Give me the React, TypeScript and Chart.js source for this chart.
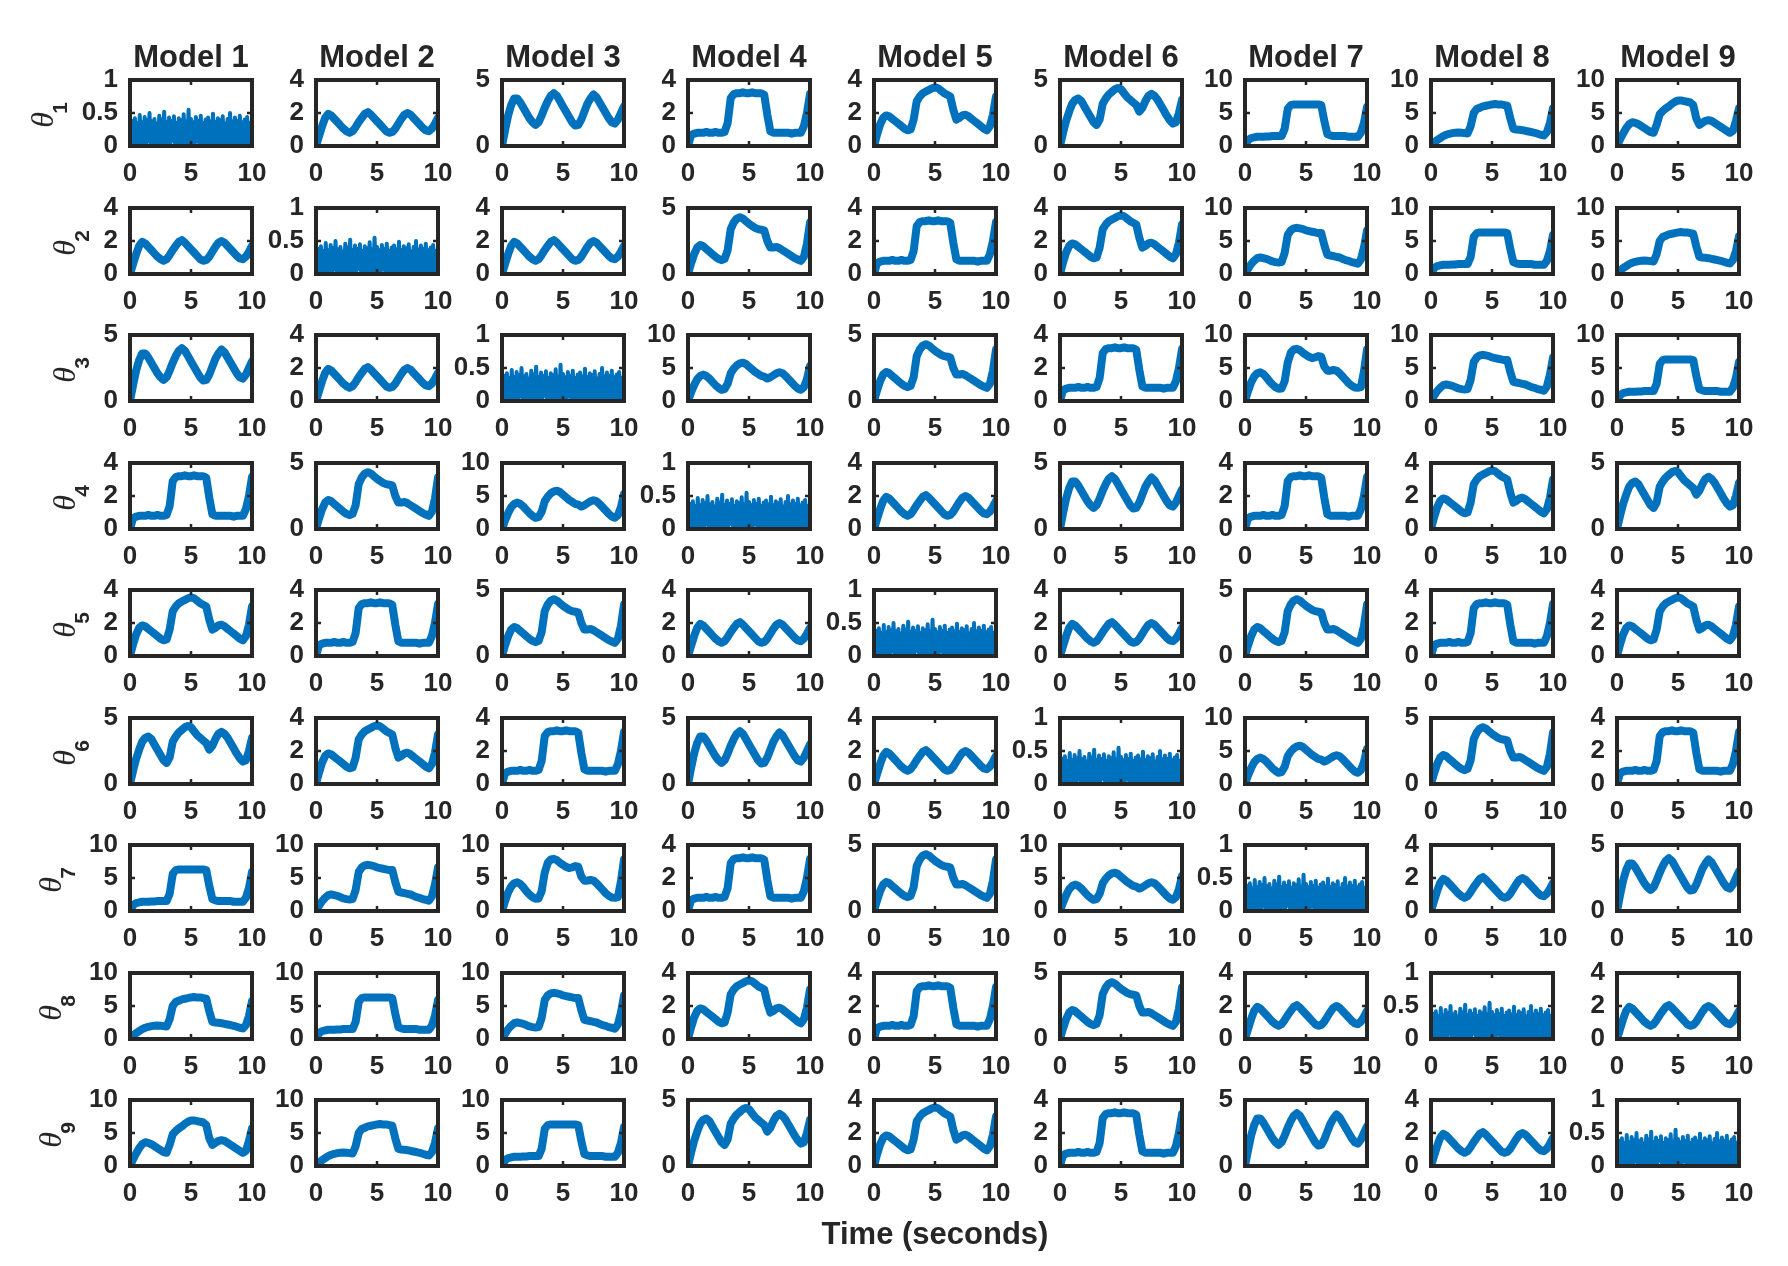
import React, { useEffect, useRef } from 'react';
import { Chart, registerables } from 'chart.js';

Chart.register(...registerables);

// ---------- data ----------
const TIME = [0, 0.25, 0.5, 0.75, 1, 1.25, 1.5, 1.75, 2, 2.25, 2.5, 2.75, 3, 3.25, 3.5, 3.75, 4, 4.25, 4.5, 4.75, 5, 5.25, 5.5, 5.75, 6, 6.25, 6.5, 6.75, 7, 7.25, 7.5, 7.75, 8, 8.25, 8.5, 8.75, 9, 9.25, 9.5, 9.75, 10];

const NOISE_TIME = [0, 0.1, 0.2, 0.3, 0.4, 0.5, 0.6, 0.7, 0.8, 0.9, 1, 1.1, 1.2, 1.3, 1.4, 1.5, 1.6, 1.7, 1.8, 1.9, 2, 2.1, 2.2, 2.3, 2.4, 2.5, 2.6, 2.7, 2.8, 2.9, 3, 3.1, 3.2, 3.3, 3.4, 3.5, 3.6, 3.7, 3.8, 3.9, 4, 4.1, 4.2, 4.3, 4.4, 4.5, 4.6, 4.7, 4.8, 4.9, 5, 5.1, 5.2, 5.3, 5.4, 5.5, 5.6, 5.7, 5.8, 5.9, 6, 6.1, 6.2, 6.3, 6.4, 6.5, 6.6, 6.7, 6.8, 6.9, 7, 7.1, 7.2, 7.3, 7.4, 7.5, 7.6, 7.7, 7.8, 7.9, 8, 8.1, 8.2, 8.3, 8.4, 8.5, 8.6, 8.7, 8.8, 8.9, 9, 9.1, 9.2, 9.3, 9.4, 9.5, 9.6, 9.7, 9.8, 9.9, 10];

// diagonal panels (same parameter): noise band
const NOISE = [0.45, 0.03, 0.38, 0.05, 0.42, 0.01, 0.35, 0.06, 0.47, 0.02,
  0.36, 0.04, 0.44, 0.00, 0.39, 0.07, 0.50, 0.03, 0.37, 0.05,
  0.41, 0.02, 0.34, 0.06, 0.46, 0.01, 0.40, 0.04, 0.52, 0.03,
  0.36, 0.05, 0.43, 0.02, 0.38, 0.08, 0.45, 0.01, 0.35, 0.04,
  0.42, 0.03, 0.39, 0.06, 0.48, 0.02, 0.37, 0.05, 0.55, 0.03,
  0.41, 0.01, 0.36, 0.04, 0.44, 0.07, 0.38, 0.02, 0.46, 0.05,
  0.35, 0.03, 0.40, 0.01, 0.43, 0.06, 0.37, 0.04, 0.49, 0.02,
  0.36, 0.05, 0.42, 0.03, 0.39, 0.00, 0.45, 0.06, 0.34, 0.04,
  0.41, 0.02, 0.50, 0.05, 0.37, 0.03, 0.43, 0.01, 0.38, 0.06,
  0.46, 0.04, 0.36, 0.02, 0.40, 0.05, 0.44, 0.03, 0.35, 0.07,
  0.42];

const WAVE_SMALL = [0, 0.6, 1.2, 1.7, 1.95, 1.85, 1.65, 1.45, 1.25, 1.05, 0.9, 0.8, 0.9, 1.15, 1.45, 1.7, 1.95, 2.05, 1.9, 1.7, 1.5, 1.3, 1.1, 0.9, 0.8, 0.85, 1.05, 1.35, 1.65, 1.9, 2.0, 1.9, 1.7, 1.5, 1.3, 1.1, 0.95, 0.9, 1.05, 1.35, 1.7];
const WAVE_BIG = [0, 1.2, 2.3, 3.1, 3.6, 3.6, 3.3, 2.9, 2.5, 2.1, 1.8, 1.6, 1.8, 2.3, 2.9, 3.4, 3.8, 4.0, 3.8, 3.4, 3.0, 2.6, 2.2, 1.8, 1.55, 1.6, 2.0, 2.6, 3.2, 3.6, 3.9, 3.7, 3.3, 2.9, 2.5, 2.1, 1.8, 1.7, 2.0, 2.5, 3.0];
const STEP_SMALL = [0, 0.65, 0.75, 0.8, 0.8, 0.8, 0.85, 0.8, 0.8, 0.85, 0.8, 0.8, 0.85, 1.4, 2.9, 3.15, 3.2, 3.2, 3.25, 3.2, 3.2, 3.25, 3.2, 3.2, 3.2, 3.1, 1.9, 0.9, 0.8, 0.8, 0.8, 0.8, 0.8, 0.8, 0.75, 0.8, 0.8, 0.8, 1.2, 2.0, 3.15];
const STEP_WAVE_PLUS = [0, 0.7, 1.3, 1.7, 1.85, 1.8, 1.65, 1.5, 1.35, 1.2, 1.05, 0.95, 1.0, 1.6, 2.7, 3.0, 3.2, 3.3, 3.4, 3.5, 3.55, 3.5, 3.35, 3.2, 3.1, 3.0, 2.2, 1.6, 1.7, 1.85, 1.9, 1.8, 1.65, 1.5, 1.35, 1.2, 1.05, 0.95, 1.2, 1.9, 3.0];
const STEP_WAVE_MINUS = [0, 0.8, 1.5, 2.0, 2.2, 2.1, 1.9, 1.7, 1.5, 1.3, 1.15, 1.05, 1.15, 1.8, 3.4, 3.9, 4.2, 4.3, 4.2, 4.0, 3.8, 3.65, 3.5, 3.4, 3.35, 3.3, 2.5, 2.0, 2.0, 2.05, 1.95, 1.8, 1.65, 1.5, 1.35, 1.2, 1.1, 1.0, 1.3, 2.3, 3.9];
const STEP_WAVE2_PLUS = [0, 1.0, 1.9, 2.6, 3.2, 3.5, 3.6, 3.4, 3.0, 2.6, 2.2, 1.8, 1.6, 2.0, 3.2, 3.6, 3.9, 4.1, 4.3, 4.4, 4.3, 4.0, 3.7, 3.5, 3.3, 3.1, 2.6, 2.9, 3.4, 3.8, 3.95, 3.8, 3.5, 3.1, 2.7, 2.3, 1.95, 1.7, 1.8, 2.5, 3.5];
const STEP_WAVE2_MINUS = [0, 1.3, 2.4, 3.3, 3.8, 4.0, 3.8, 3.4, 2.9, 2.4, 2.0, 1.7, 1.8, 2.6, 4.2, 4.9, 5.4, 5.7, 5.8, 5.6, 5.2, 4.8, 4.4, 4.1, 3.8, 3.7, 3.4, 3.6, 3.9, 4.2, 4.35, 4.2, 3.8, 3.3, 2.8, 2.3, 1.9, 1.7, 2.1, 3.3, 5.3];
const STEP_BIG = [0, 0.9, 1.2, 1.3, 1.4, 1.4, 1.4, 1.45, 1.45, 1.5, 1.5, 1.5, 1.5, 2.6, 5.6, 6.2, 6.3, 6.3, 6.3, 6.3, 6.3, 6.3, 6.3, 6.3, 6.3, 6.2, 3.8, 1.8, 1.6, 1.5, 1.5, 1.5, 1.5, 1.5, 1.4, 1.4, 1.4, 1.4, 2.0, 3.5, 5.9];
const STEP_BIG_WAVE_PLUS = [0, 0.5, 0.9, 1.2, 1.5, 1.7, 1.85, 1.95, 2.0, 2.05, 2.0, 1.95, 1.9, 3.0, 5.0, 5.6, 5.8, 6.0, 6.1, 6.2, 6.3, 6.35, 6.3, 6.3, 6.2, 6.1, 4.2, 2.6, 2.5, 2.45, 2.4, 2.3, 2.2, 2.1, 2.0, 1.85, 1.7, 1.6, 2.1, 3.5, 5.7];
const STEP_BIG_WAVE_MINUS = [0, 0.8, 1.5, 2.0, 2.4, 2.5, 2.4, 2.3, 2.1, 1.9, 1.8, 1.75, 1.8, 3.2, 5.9, 6.6, 6.9, 7.0, 6.9, 6.8, 6.6, 6.5, 6.4, 6.3, 6.2, 6.2, 4.4, 2.9, 2.8, 2.7, 2.6, 2.5, 2.3, 2.1, 2.0, 1.8, 1.7, 1.55, 2.2, 4.0, 6.6];
const STEP_BIG_WAVE2_PLUS = [0, 1.0, 1.9, 2.7, 3.3, 3.6, 3.5, 3.3, 3.0, 2.7, 2.4, 2.1, 2.0, 3.2, 4.8, 5.3, 5.7, 6.0, 6.4, 6.7, 6.9, 6.9, 6.8, 6.7, 6.6, 6.2, 4.2, 3.2, 3.5, 3.8, 3.9, 3.8, 3.5, 3.2, 2.9, 2.6, 2.3, 2.0, 2.3, 3.8, 5.7];
const STEP_BIG_WAVE2_MINUS = [0, 1.5, 2.8, 3.7, 4.2, 4.35, 4.1, 3.6, 3.0, 2.5, 2.1, 1.85, 1.9, 3.0, 5.8, 7.3, 7.8, 7.9, 7.7, 7.3, 7.0, 6.7, 6.5, 6.6, 6.8, 6.7, 5.2, 4.6, 4.6, 4.7, 4.6, 4.2, 3.7, 3.2, 2.7, 2.3, 2.05, 2.0, 2.1, 4.5, 7.8];

const MODEL_TITLES = ['Model 1', 'Model 2', 'Model 3', 'Model 4', 'Model 5', 'Model 6', 'Model 7', 'Model 8', 'Model 9'];
const THETA_SUBSCRIPTS = ['1', '2', '3', '4', '5', '6', '7', '8', '9'];
const X_LABEL = 'Time (seconds)';
const X_TICKS = [0, 5, 10];
const Y_TICKS_1 = [0, 0.5, 1];
const Y_TICKS_4 = [0, 2, 4];
const Y_TICKS_5 = [0, 5];
const Y_TICKS_10 = [0, 5, 10];

type Shape = { t: number[]; y: number[]; ticks: number[]; noise?: boolean };
const SHAPES: Record<string, Shape> = {
  N: { t: NOISE_TIME, y: NOISE, ticks: Y_TICKS_1, noise: true },
  '01': { t: TIME, y: WAVE_SMALL, ticks: Y_TICKS_4 },
  '02': { t: TIME, y: WAVE_BIG, ticks: Y_TICKS_5 },
  '10': { t: TIME, y: STEP_SMALL, ticks: Y_TICKS_4 },
  '11': { t: TIME, y: STEP_WAVE_PLUS, ticks: Y_TICKS_4 },
  '1m1': { t: TIME, y: STEP_WAVE_MINUS, ticks: Y_TICKS_5 },
  '12': { t: TIME, y: STEP_WAVE2_PLUS, ticks: Y_TICKS_5 },
  '1m2': { t: TIME, y: STEP_WAVE2_MINUS, ticks: Y_TICKS_10 },
  '20': { t: TIME, y: STEP_BIG, ticks: Y_TICKS_10 },
  '21': { t: TIME, y: STEP_BIG_WAVE_PLUS, ticks: Y_TICKS_10 },
  '2m1': { t: TIME, y: STEP_BIG_WAVE_MINUS, ticks: Y_TICKS_10 },
  '22': { t: TIME, y: STEP_BIG_WAVE2_PLUS, ticks: Y_TICKS_10 },
  '2m2': { t: TIME, y: STEP_BIG_WAVE2_MINUS, ticks: Y_TICKS_10 },
};

// row = theta index, column = model index
const GRID = [
  ['N', '01', '02', '10', '11', '12', '20', '21', '22'],
  ['01', 'N', '01', '1m1', '10', '11', '2m1', '20', '21'],
  ['02', '01', 'N', '1m2', '1m1', '10', '2m2', '2m1', '20'],
  ['10', '1m1', '1m2', 'N', '01', '02', '10', '11', '12'],
  ['11', '10', '1m1', '01', 'N', '01', '1m1', '10', '11'],
  ['12', '11', '10', '02', '01', 'N', '1m2', '1m1', '10'],
  ['20', '2m1', '2m2', '10', '1m1', '1m2', 'N', '01', '02'],
  ['21', '20', '2m1', '11', '10', '1m1', '01', 'N', '01'],
  ['22', '21', '20', '12', '11', '10', '02', '01', 'N'],
];

// ---------- layout / style ----------
const FONT_FAMILY = '"Liberation Sans", Arial, Helvetica, sans-serif';
const TEXT_COLOR = '#262626';
const LINE_COLOR = '#0072BD';
const PLOT_W = 122;
const PLOT_H = 66;
const X0 = 130;
const DX = 185.9;
const Y0 = 80;
const DY = 127.5;
const TOP_SPACE = 70;
const RIGHT_SPACE = 30;
const XAXIS_H = 50;
const TICK_FONT_SIZE = 26;
const TITLE_FONT_SIZE = 31;

type Cell = { r: number; c: number; key: string; left: number; top: number; w: number; h: number; leftSpace: number };
const CELLS: Cell[] = [];
for (let r = 0; r < 9; r++) {
  for (let c = 0; c < 9; c++) {
    const plotLeft = Math.round(X0 + c * DX);
    const plotTop = Math.round(Y0 + r * DY);
    const leftSpace = c === 0 ? 130 : 70;
    CELLS.push({
      r, c, key: GRID[r][c],
      left: plotLeft - leftSpace, top: plotTop - TOP_SPACE,
      w: leftSpace + PLOT_W + RIGHT_SPACE, h: TOP_SPACE + PLOT_H + XAXIS_H,
      leftSpace,
    });
  }
}
// x label sits under the middle panel of the bottom row
const XLABEL_CX = Math.round(X0 + 4 * DX) + PLOT_W / 2;
const XLABEL_CY = Math.round(Y0 + 8 * DY) + PLOT_H + 67;

const framePlugin = {
  id: 'matlabFrame',
  afterDatasetsDraw(chart: any) {
    const { ctx, chartArea } = chart;
    const { left, top, right, bottom } = chartArea;
    ctx.save();
    ctx.strokeStyle = TEXT_COLOR;
    ctx.lineWidth = 2.5;
    const xs = chart.scales.x;
    const ys = chart.scales.y;
    ctx.beginPath();
    xs.ticks.forEach((t: any) => {
      const px = xs.getPixelForValue(t.value);
      ctx.moveTo(px, bottom); ctx.lineTo(px, bottom - 5);
      ctx.moveTo(px, top); ctx.lineTo(px, top + 5);
    });
    ys.ticks.forEach((t: any) => {
      const py = ys.getPixelForValue(t.value);
      ctx.moveTo(left, py); ctx.lineTo(left + 5, py);
      ctx.moveTo(right, py); ctx.lineTo(right - 5, py);
    });
    ctx.stroke();
    ctx.lineWidth = 4;
    ctx.strokeRect(left, top, right - left, bottom - top);
    ctx.restore();
  },
};

const thetaPlugin = {
  id: 'thetaLabel',
  afterDraw(chart: any, _args: any, opts: any) {
    if (!opts || !opts.sub) return;
    const { ctx, chartArea } = chart;
    const ys = chart.scales.y;
    ctx.save();
    ctx.font = `bold ${TICK_FONT_SIZE}px ${FONT_FAMILY}`;
    let w = 0;
    ys.ticks.forEach((t: any) => { w = Math.max(w, ctx.measureText(String(t.label)).width); });
    const labelLeft = chartArea.left - 12 - w;
    const cx = labelLeft - 33;
    const cy = (chartArea.top + chartArea.bottom) / 2 + 2;
    ctx.translate(cx, cy);
    ctx.rotate(-Math.PI / 2);
    ctx.fillStyle = TEXT_COLOR;
    ctx.textBaseline = 'alphabetic';
    ctx.textAlign = 'center';
    ctx.font = 'italic 32px "Liberation Serif", "DejaVu Serif", serif';
    ctx.fillText('θ', -5, 4.5);
    ctx.font = `bold 21px ${FONT_FAMILY}`;
    ctx.fillText(opts.sub, 7, 18.5);
    ctx.restore();
  },
};

function buildConfig(cell: Cell): any {
  const shape = SHAPES[cell.key];
  const ymax = shape.ticks[shape.ticks.length - 1];
  const data = shape.t.map((t, i) => ({ x: t, y: shape.y[i] }));
  const hasTitle = cell.r === 0;
  const tickFont = { family: FONT_FAMILY, size: TICK_FONT_SIZE, weight: 'bold' as const };
  return {
    type: 'line',
    data: {
      datasets: [{
        data,
        borderColor: LINE_COLOR,
        backgroundColor: LINE_COLOR,
        borderWidth: shape.noise ? 4 : 8,
        pointRadius: 0,
        tension: 0,
        borderJoinStyle: 'round',
        borderCapStyle: 'round',
        fill: false,
      }],
    },
    options: {
      responsive: false,
      maintainAspectRatio: false,
      animation: false,
      devicePixelRatio: 1,
      events: [],
      layout: { padding: { top: hasTitle ? 30 : TOP_SPACE, left: 0, right: RIGHT_SPACE, bottom: 0 } },
      plugins: {
        legend: { display: false },
        tooltip: { enabled: false },
        title: {
          display: hasTitle,
          text: MODEL_TITLES[cell.c],
          color: TEXT_COLOR,
          font: { family: FONT_FAMILY, size: TITLE_FONT_SIZE, weight: 'bold', lineHeight: 1.2 },
          padding: { top: 0, bottom: TOP_SPACE - 30 - TITLE_FONT_SIZE * 1.2 },
          fullSize: false,
        },
        thetaLabel: cell.c === 0 ? { sub: THETA_SUBSCRIPTS[cell.r] } : false,
      },
      scales: {
        x: {
          type: 'linear',
          min: 0,
          max: 10,
          grid: { display: false, drawTicks: false, tickLength: 0 },
          border: { display: false },
          afterBuildTicks: (scale: any) => { scale.ticks = X_TICKS.map((v) => ({ value: v })); },
          afterFit: (scale: any) => { scale.height = XAXIS_H; },
          ticks: { color: TEXT_COLOR, font: tickFont, padding: 12, autoSkip: false, maxRotation: 0, minRotation: 0, callback: (v: any) => String(v) },
        },
        y: {
          type: 'linear',
          min: 0,
          max: ymax,
          grid: { display: false, drawTicks: false, tickLength: 0 },
          border: { display: false },
          afterBuildTicks: (scale: any) => { scale.ticks = shape.ticks.map((v) => ({ value: v })); },
          afterFit: (scale: any) => { scale.width = cell.leftSpace; },
          ticks: { color: TEXT_COLOR, font: tickFont, padding: 12, autoSkip: false, callback: (v: any) => String(v) },
        },
      },
    },
    plugins: cell.c === 0 ? [framePlugin, thetaPlugin] : [framePlugin],
  };
}

export default function App() {
  const refs = useRef<(HTMLCanvasElement | null)[]>([]);

  useEffect(() => {
    const charts: Chart[] = [];
    CELLS.forEach((cell, k) => {
      const canvas = refs.current[k];
      if (!canvas) return;
      charts.push(new Chart(canvas, buildConfig(cell)));
    });
    return () => { charts.forEach((ch) => ch.destroy()); };
  }, []);

  return (
    <div style={{ position: 'absolute', left: 0, top: 0, width: 1788, height: 1266, background: '#ffffff', overflow: 'hidden' }}>
      {CELLS.map((cell, k) => (
        <canvas
          key={k}
          ref={(el) => { refs.current[k] = el; }}
          width={cell.w}
          height={cell.h}
          style={{ position: 'absolute', left: cell.left, top: cell.top, width: cell.w, height: cell.h }}
        />
      ))}
      <div
        style={{
          position: 'absolute', left: XLABEL_CX, top: XLABEL_CY,
          transform: 'translate(-50%, -50%)', whiteSpace: 'nowrap',
          fontFamily: FONT_FAMILY, fontWeight: 'bold', fontSize: TITLE_FONT_SIZE,
          lineHeight: 1, color: TEXT_COLOR,
        }}
      >
        {X_LABEL}
      </div>
    </div>
  );
}
